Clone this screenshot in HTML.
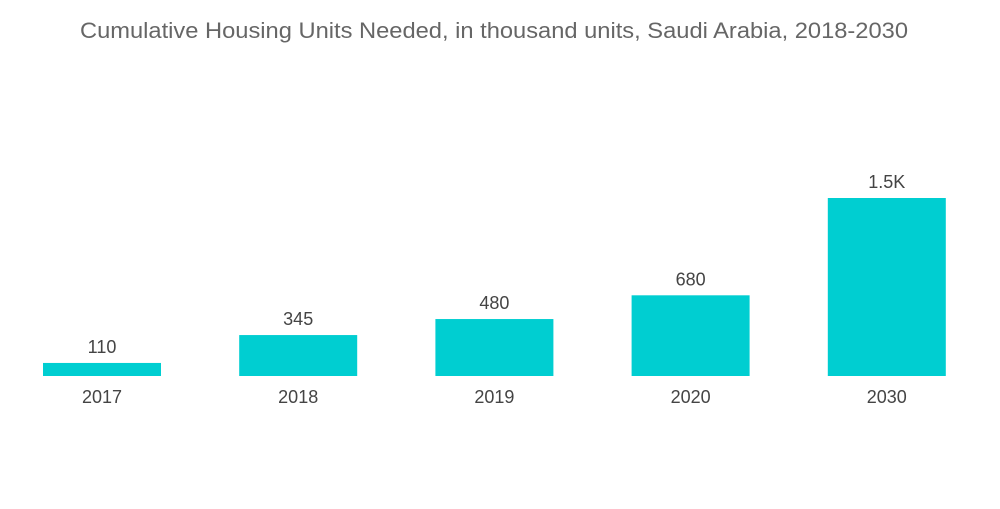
<!DOCTYPE html>
<html><head><meta charset="utf-8"><style>
body{margin:0;background:#fff;width:1000px;height:504px;overflow:hidden;font-family:"Liberation Sans",sans-serif;}
</style></head><body>
<svg width="1000" height="504">
<text x="80" y="38" textLength="828" lengthAdjust="spacingAndGlyphs" font-size="22" fill="#666">Cumulative Housing Units Needed, in thousand units, Saudi Arabia, 2018-2030</text>
<g id="bars"></g>
</svg>
<script>
const categories=["2017","2018","2019","2020","2030"];
const values=[110,345,480,680,1500];
const valueLabels=["110","345","480","680","1.5K"];
const base=376, scale=178/1500, x0=43, step=196.2, bw=118;
const yScale=v=>base-v*scale;
const xScale=i=>x0+i*step;
const g=document.getElementById('bars');
const ns="http://www.w3.org/2000/svg";
categories.forEach((c,i)=>{
  const r=document.createElementNS(ns,'rect');
  r.setAttribute('x',xScale(i));r.setAttribute('y',yScale(values[i]));
  r.setAttribute('width',bw);r.setAttribute('height',base-yScale(values[i]));
  r.setAttribute('fill','#00ced1');
  
  
  g.appendChild(r);
  const t=document.createElementNS(ns,'text');
  t.setAttribute('x',xScale(i)+bw/2);t.setAttribute('y',yScale(values[i])-10);
  t.setAttribute('text-anchor','middle');t.setAttribute('font-size','18');t.setAttribute('fill','#444');
  t.textContent=valueLabels[i];
  
  
  g.appendChild(t);
  const l=document.createElementNS(ns,'text');
  l.setAttribute('x',xScale(i)+bw/2);l.setAttribute('y',403);
  l.setAttribute('text-anchor','middle');l.setAttribute('font-size','18');l.setAttribute('fill','#444');
  l.textContent=c;
  
  
  g.appendChild(l);
});
</script>
</body></html>
